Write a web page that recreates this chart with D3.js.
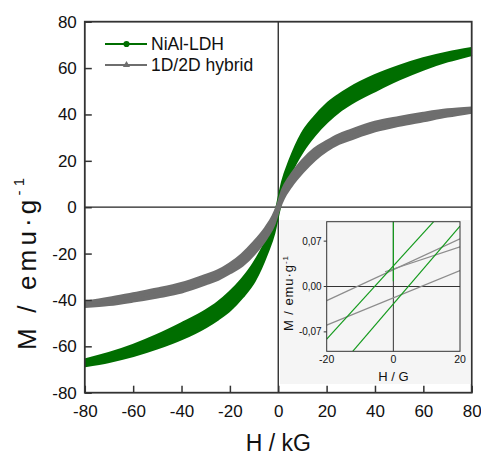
<!DOCTYPE html>
<meta charset="utf-8">

<!-- Load D3 -->
<script src="https://d3js.org/d3.v7.min.js"></script>

<style>
  body { margin: 0; background: #fff; }
  text { font-family: "Liberation Sans", Arial, sans-serif; fill: #111; }
</style>

<body>
<div id="my_visual"></div>

<script>

// ---- data ----
// applied field (kG)
var fieldH = [-80, -70, -60, -50, -40, -30, -25, -20, -15, -10, -5, -2, 0, 2, 5, 10, 15, 20, 25, 30, 40, 50, 60, 70, 80];

// NiAl-LDH, descending (upper) and ascending (lower) branches, emu/g
var ldhUpper = [-66.1, -63.3, -59.8, -55.5, -50.5, -45, -41.5, -37, -31.5, -24.5, -15, -7, 1.5, 11, 20, 31.5, 38.5, 44, 48, 51.3, 56.5, 60.5, 63.8, 66.3, 68.2];
var ldhLower = [-68.2, -66.3, -63.8, -60.5, -56.5, -51.3, -48, -44, -38.5, -31.5, -20, -11, -1.5, 7, 15, 24.5, 31.5, 37, 41.5, 45, 50.5, 55.5, 59.8, 63.3, 66.1];

// 1D/2D hybrid
var hybUpper = [-41.2, -39.5, -37.5, -35.5, -33.1, -29.6, -27.7, -24.7, -20.7, -15.4, -9, -4, 1, 7.5, 13, 19.8, 24.9, 28.1, 30.9, 32.9, 36.4, 38.5, 40.3, 41.8, 42.6];
var hybLower = [-42.6, -41.8, -40.3, -38.5, -36.4, -32.9, -30.9, -28.1, -24.9, -19.8, -13, -7.5, -1, 4, 9, 15.4, 20.7, 24.7, 27.7, 29.6, 33.1, 35.5, 37.5, 39.5, 41.2];

var seriesNames = ["NiAl-LDH", "1D/2D hybrid"];
var seriesColors = ["#006e00", "#6e6e6e"];

var xTicks = [-80, -60, -40, -20, 0, 20, 40, 60, 80];
var yTicks = [-80, -60, -40, -20, 0, 20, 40, 60, 80];

// inset (low field zoom, H in G)
var insetXTicks = [-20, 0, 20];
var insetYTicks = [-0.07, 0, 0.07];
var insetYLabels = ["-0,07", "0,00", "0,07"];
// segments as [H, M] end points
var insetGreen = [
  [[-20, -0.0813], [12.1, 0.1]],
  [[-12.2, -0.1], [20, 0.0933]],
  [[0, 0.1], [0, 0.008]]
];
var insetGray = [
  [[-20, -0.0218], [20, 0.0737]],
  [[-2.5, 0.0228], [20, 0.0613]],
  [[-20, -0.0596], [20, 0.0245]]
];

// ---- layout ----
var W = 481, H = 455;
var plot = {left: 84.8, right: 471.7, top: 21.7, bottom: 392.7};
var fmt = function(d) { return String(d); };   // keep the plain hyphen minus

var svg = d3.select("#my_visual")
  .append("svg")
    .attr("width", W)
    .attr("height", H);

var x = d3.scaleLinear().domain([-80, 80]).range([plot.left, plot.right]);
var y = d3.scaleLinear().domain([-80, 80]).range([plot.bottom, plot.top]);

// zero lines
svg.append("line")
  .attr("x1", x(0)).attr("x2", x(0))
  .attr("y1", plot.top).attr("y2", plot.bottom)
  .attr("stroke", "#222").attr("stroke-width", 1.3);
svg.append("line")
  .attr("x1", plot.left).attr("x2", plot.right)
  .attr("y1", y(0)).attr("y2", y(0))
  .attr("stroke", "#222").attr("stroke-width", 1.3);

// ---- hysteresis bands ----
var pts = function(up, lo) {
  return fieldH.map(function(h, i) { return {h: h, up: up[i], lo: lo[i]}; });
};
var series = [pts(ldhUpper, ldhLower), pts(hybUpper, hybLower)];

var area = d3.area()
  .curve(d3.curveMonotoneX)
  .x(function(d) { return x(d.h); })
  .y0(function(d) { return y(d.lo); })
  .y1(function(d) { return y(d.up); });
var lineUp = d3.line().curve(d3.curveMonotoneX)
  .x(function(d) { return x(d.h); })
  .y(function(d) { return y(d.up); });
var lineLo = d3.line().curve(d3.curveMonotoneX)
  .x(function(d) { return x(d.h); })
  .y(function(d) { return y(d.lo); });

series.forEach(function(s, i) {
  var g = svg.append("g");
  g.append("path").attr("d", area(s)).attr("fill", seriesColors[i]);
  g.append("path").attr("d", lineUp(s)).attr("fill", "none")
    .attr("stroke", seriesColors[i]).attr("stroke-width", 4);
  g.append("path").attr("d", lineLo(s)).attr("fill", "none")
    .attr("stroke", seriesColors[i]).attr("stroke-width", 4);
});

// ---- axes ----
svg.append("g")
  .attr("transform", "translate(0," + plot.bottom + ")")
  .call(d3.axisBottom(x).tickValues(xTicks).tickFormat(fmt).tickSize(-7).tickPadding(12))
  .call(function(g) {
    g.select(".domain").remove();
    g.selectAll("line").attr("stroke", "#333").attr("stroke-width", 1.5);
    g.selectAll("text").attr("font-size", 17).attr("fill", "#111")
      .attr("font-family", "Liberation Sans, Arial, sans-serif");
  });

svg.append("g")
  .attr("transform", "translate(" + plot.left + ",0)")
  .call(d3.axisLeft(y).tickValues(yTicks).tickFormat(fmt).tickSize(-7).tickPadding(8))
  .call(function(g) {
    g.select(".domain").remove();
    g.selectAll("line").attr("stroke", "#333").attr("stroke-width", 1.5);
    g.selectAll("text").attr("font-size", 17).attr("fill", "#111")
      .attr("font-family", "Liberation Sans, Arial, sans-serif");
  });

// frame
svg.append("rect")
  .attr("x", plot.left).attr("y", plot.top)
  .attr("width", plot.right - plot.left).attr("height", plot.bottom - plot.top)
  .attr("fill", "none").attr("stroke", "#333").attr("stroke-width", 1.8);

// axis titles
svg.append("text")
  .attr("x", (plot.left + plot.right) / 2)
  .attr("y", 451)
  .attr("text-anchor", "middle")
  .attr("font-size", 23)
  .text("H / kG");

var yTitle = svg.append("text")
  .attr("transform", "translate(36,350) rotate(-90)")
  .attr("font-size", 26)
  .attr("textLength", 172)
  .attr("lengthAdjust", "spacing");
yTitle.append("tspan").text("M / emu\u00b7g");
yTitle.append("tspan").attr("font-size", 15).attr("dy", -12).text("-1");

// ---- legend ----
var leg = svg.append("g");
seriesNames.forEach(function(name, i) {
  var ly = 44 + i * 21;
  leg.append("line")
    .attr("x1", 105).attr("x2", 147).attr("y1", ly).attr("y2", ly)
    .attr("stroke", seriesColors[i]).attr("stroke-width", 2);
  leg.append("path")
    .attr("transform", "translate(126.5," + ly + ")")
    .attr("d", d3.symbol().type(i === 0 ? d3.symbolCircle : d3.symbolTriangle).size(i === 0 ? 30 : 22)())
    .attr("fill", seriesColors[i]);
  leg.append("text")
    .attr("x", 151).attr("y", ly + 6)
    .attr("font-size", 17.5)
    .text(name);
});

// ---- inset ----
var inset = {left: 326.7, right: 460, top: 221.7, bottom: 351.3};
svg.append("rect")
  .attr("x", 280).attr("y", 220)
  .attr("width", 190.5).attr("height", 164)
  .attr("fill", "#f5f5f5");

var ix = d3.scaleLinear().domain([-20, 20]).range([inset.left, inset.right]);
var iy = d3.scaleLinear().domain([-0.1, 0.1]).range([inset.bottom, inset.top]);

svg.append("clipPath").attr("id", "insetClip")
  .append("rect")
  .attr("x", inset.left).attr("y", inset.top)
  .attr("width", inset.right - inset.left).attr("height", inset.bottom - inset.top);

var ig = svg.append("g");
// inset zero lines
ig.append("line")
  .attr("x1", ix(0)).attr("x2", ix(0)).attr("y1", inset.top).attr("y2", inset.bottom)
  .attr("stroke", "#333").attr("stroke-width", 1);
ig.append("line")
  .attr("x1", inset.left).attr("x2", inset.right).attr("y1", iy(0)).attr("y2", iy(0))
  .attr("stroke", "#333").attr("stroke-width", 1);

var segLine = d3.line()
  .x(function(d) { return ix(d[0]); })
  .y(function(d) { return iy(d[1]); });

var segs = ig.append("g").attr("clip-path", "url(#insetClip)");
insetGray.forEach(function(s) {
  segs.append("path").attr("d", segLine(s)).attr("fill", "none")
    .attr("stroke", "#8c8c8c").attr("stroke-width", 1.2);
});
insetGreen.forEach(function(s) {
  segs.append("path").attr("d", segLine(s)).attr("fill", "none")
    .attr("stroke", "#139a1c").attr("stroke-width", 1.2);
});

ig.append("rect")
  .attr("x", inset.left).attr("y", inset.top)
  .attr("width", inset.right - inset.left).attr("height", inset.bottom - inset.top)
  .attr("fill", "none").attr("stroke", "#333").attr("stroke-width", 1);

// inset ticks and labels
insetYTicks.forEach(function(t, i) {
  ig.append("line")
    .attr("x1", inset.left - 3).attr("x2", inset.left)
    .attr("y1", iy(t)).attr("y2", iy(t))
    .attr("stroke", "#333");
  ig.append("text")
    .attr("x", inset.left - 5).attr("y", iy(t)).attr("dy", "0.35em")
    .attr("text-anchor", "end").attr("font-size", 10)
    .text(insetYLabels[i]);
});
insetXTicks.forEach(function(t) {
  ig.append("text")
    .attr("x", ix(t)).attr("y", inset.bottom + 12)
    .attr("text-anchor", "middle").attr("font-size", 10.5)
    .text(fmt(t));
});

ig.append("text")
  .attr("x", ix(0)).attr("y", 381)
  .attr("text-anchor", "middle").attr("font-size", 13)
  .text("H / G");

var iyTitle = ig.append("text")
  .attr("transform", "translate(293,331) rotate(-90)")
  .attr("font-size", 13)
  .attr("textLength", 75)
  .attr("lengthAdjust", "spacing");
iyTitle.append("tspan").text("M / emu\u00b7g");
iyTitle.append("tspan").attr("font-size", 8).attr("dy", -5).text("-1");

</script>
</body>
